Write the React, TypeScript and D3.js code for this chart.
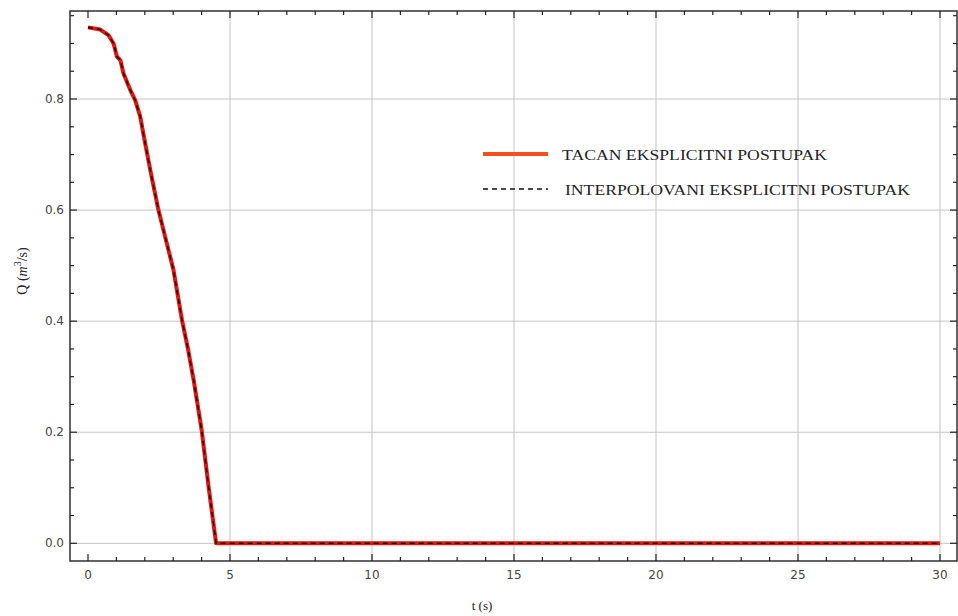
import React, { useEffect, useRef } from "react";
import * as d3 from "d3";

// time (s) and discharge Q (m^3/s)
const tValues = [0, 0.43, 0.72, 0.9, 1.02, 1.14, 1.25, 1.49, 1.66, 1.84, 1.98, 2.2, 2.48, 2.75, 3.01, 3.31, 3.52, 3.72, 4.01, 4.25, 4.51, 30];
const qValues = [0.929, 0.925, 0.915, 0.9, 0.876, 0.87, 0.846, 0.816, 0.798, 0.768, 0.729, 0.67, 0.6, 0.545, 0.492, 0.402, 0.35, 0.294, 0.201, 0.1, 0.0, 0.0];

const xTicks = [0, 5, 10, 15, 20, 25, 30];
const yTicks = [0.0, 0.2, 0.4, 0.6, 0.8];
const legendLabels = ["TACAN EKSPLICITNI POSTUPAK", "INTERPOLOVANI EKSPLICITNI POSTUPAK"];

const W = 958;
const H = 616;

const App = () => {
  const svgRef = useRef<SVGSVGElement>(null);

  useEffect(() => {
    const svg = d3.select(svgRef.current);
    svg.selectAll("*").remove();

    // frame box
    const left = 70, right = 957, top = 11, bottom = 561;

    const x = d3.scaleLinear().domain([0, 30]).range([88, 940]);
    const y = d3.scaleLinear().domain([0, 0.8]).range([543.3, 99]);

    // grid lines
    const grid = svg.append("g").attr("stroke", "#c4c4c4").attr("stroke-width", 1);
    xTicks.filter((d) => d > 0).forEach((d) => {
      grid.append("line").attr("x1", x(d)).attr("x2", x(d)).attr("y1", top).attr("y2", bottom);
    });
    yTicks.forEach((d) => {
      grid.append("line").attr("x1", left).attr("x2", right).attr("y1", y(d)).attr("y2", y(d));
    });

    // frame
    svg.append("rect")
      .attr("x", left).attr("y", top)
      .attr("width", right - left).attr("height", bottom - top)
      .attr("fill", "none").attr("stroke", "#222").attr("stroke-width", 1.4);

    // ticks on all four sides (inward)
    const ticks = svg.append("g").attr("stroke", "#222").attr("stroke-width", 1.2);
    d3.range(0, 31, 1).forEach((d) => {
      const len = d % 5 === 0 ? 7 : 4;
      ticks.append("line").attr("x1", x(d)).attr("x2", x(d)).attr("y1", bottom).attr("y2", bottom - len);
      ticks.append("line").attr("x1", x(d)).attr("x2", x(d)).attr("y1", top).attr("y2", top + len);
    });
    d3.range(0, 20).map((i) => i * 0.05).forEach((d) => {
      if (y(d) < top + 1) return;
      const len = Math.round(d * 100) % 20 === 0 ? 7 : 4;
      ticks.append("line").attr("x1", left).attr("x2", left + len).attr("y1", y(d)).attr("y2", y(d));
      ticks.append("line").attr("x1", right).attr("x2", right - len).attr("y1", y(d)).attr("y2", y(d));
    });

    // tick labels
    const tickFont = "Tahoma, 'DejaVu Sans', sans-serif";
    svg.append("g").selectAll("text").data(xTicks).enter().append("text")
      .attr("x", (d) => x(d)).attr("y", 579)
      .attr("text-anchor", "middle")
      .attr("font-family", tickFont).attr("font-size", 12).attr("fill", "#444")
      .text((d) => d3.format("d")(d));
    svg.append("g").selectAll("text").data(yTicks).enter().append("text")
      .attr("x", 64).attr("y", (d) => y(d) + 4)
      .attr("text-anchor", "end")
      .attr("font-family", tickFont).attr("font-size", 12).attr("fill", "#444")
      .text((d) => d3.format(".1f")(d));

    // axis titles
    svg.append("text")
      .attr("x", 482).attr("y", 610).attr("text-anchor", "middle")
      .attr("font-family", "'Liberation Serif', serif").attr("font-size", 13).attr("fill", "#222")
      .text("t (s)");
    const yt = svg.append("text")
      .attr("transform", "translate(27,271) rotate(-90)")
      .attr("text-anchor", "middle")
      .attr("font-family", "'Liberation Serif', serif").attr("font-size", 14).attr("fill", "#222");
    yt.append("tspan").text("Q (");
    yt.append("tspan").attr("font-style", "italic").text("m");
    yt.append("tspan").attr("dy", -6).attr("font-size", 10).text("3");
    yt.append("tspan").attr("dy", 6).text("/s)");

    // curves
    const data = tValues.map((t, i) => ({ t, q: qValues[i] }));
    const line = d3.line<{ t: number; q: number }>()
      .x((d) => x(d.t)).y((d) => y(d.q));
    svg.append("path").datum(data)
      .attr("d", line).attr("fill", "none")
      .attr("stroke", "#e8140c").attr("stroke-width", 4).attr("stroke-linejoin", "round");
    svg.append("path").datum(data)
      .attr("d", line).attr("fill", "none")
      .attr("stroke", "#111").attr("stroke-width", 1.6).attr("stroke-dasharray", "5,4");

    // legend
    const lg = svg.append("g");
    lg.append("line").attr("x1", 483).attr("x2", 548).attr("y1", 154).attr("y2", 154)
      .attr("stroke", "#f4501a").attr("stroke-width", 4);
    lg.append("line").attr("x1", 483).attr("x2", 548).attr("y1", 189).attr("y2", 189)
      .attr("stroke", "#111").attr("stroke-width", 1.3).attr("stroke-dasharray", "5,4");
    lg.append("text").attr("x", 562).attr("y", 160)
      .attr("font-family", "'Liberation Serif', serif").attr("font-size", 14.5).attr("fill", "#222")
      .attr("textLength", 265).attr("lengthAdjust", "spacingAndGlyphs")
      .text(legendLabels[0]);
    lg.append("text").attr("x", 565).attr("y", 195)
      .attr("font-family", "'Liberation Serif', serif").attr("font-size", 14.5).attr("fill", "#222")
      .attr("textLength", 345).attr("lengthAdjust", "spacingAndGlyphs")
      .text(legendLabels[1]);
  }, []);

  return (
    <svg
      ref={svgRef}
      width={W}
      height={H}
      style={{ position: "absolute", left: 0, top: 0, background: "#fff" }}
    ></svg>
  );
};

export default App;
